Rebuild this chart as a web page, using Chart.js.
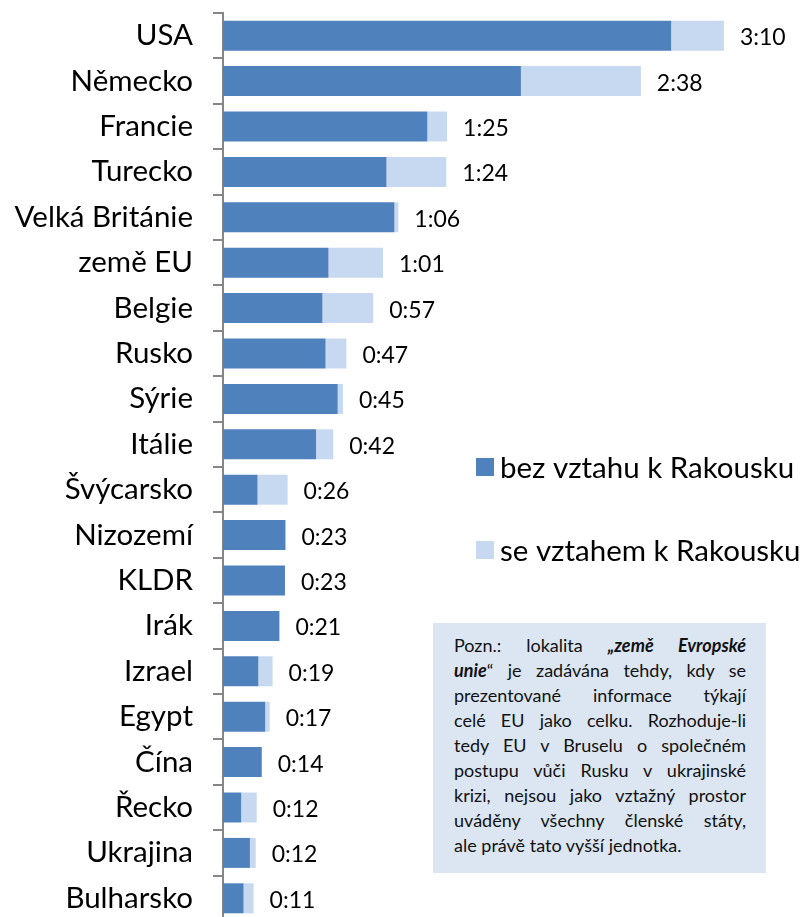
<!DOCTYPE html>
<html lang="cs">
<head>
<meta charset="utf-8">
<script src="https://cdn.jsdelivr.net/npm/chart.js@4.4.0/dist/chart.umd.min.js"></script>
<style>
  html, body { margin: 0; padding: 0; background: #fff; overflow: hidden; }
  #wrap { position: relative; width: 806px; height: 917px; overflow: hidden; }
  #chart { display: block; }
  #note {
    position: absolute; left: 433px; top: 623px; width: 333px; height: 250px;
    box-sizing: border-box; padding: 9.5px 20px 0 21px;
    background: #dce6f2; color: #111;
    font-family: Lato, sans-serif; font-size: 18px; line-height: 25.1px;
  }
  #note span { display: block; text-align: justify; text-align-last: justify; white-space: nowrap; }
  #note span.last { text-align-last: left; }
</style>
</head>
<body>
<div id="wrap">
  <canvas id="chart" width="806" height="922"></canvas>
  <div id="note">
    <span>Pozn.: lokalita <b><i>„země Evropské</i></b></span>
    <span><b><i>unie</i></b>“ je zadávána tehdy, kdy se</span>
    <span>prezentované informace týkají</span>
    <span>celé EU jako celku. Rozhoduje-li</span>
    <span>tedy EU v Bruselu o společném</span>
    <span>postupu vůči Rusku v ukrajinské</span>
    <span>krizi, nejsou jako vztažný prostor</span>
    <span>uváděny všechny členské státy,</span>
    <span class="last">ale právě tato vyšší jednotka.</span>
  </div>
</div>
<script>
// categories (top to bottom)
const countries = ['USA', 'Německo', 'Francie', 'Turecko', 'Velká Británie', 'země EU', 'Belgie',
  'Rusko', 'Sýrie', 'Itálie', 'Švýcarsko', 'Nizozemí', 'KLDR', 'Irák', 'Izrael', 'Egypt', 'Čína',
  'Řecko', 'Ukrajina', 'Bulharsko'];

// minutes without relation to Austria
const bezVztahu = [170, 113, 77.5, 62, 65, 40, 37.7, 38.9, 43.5, 35.3, 13.1, 23.7, 23.5, 21.4,
  13.4, 16, 14.7, 6.9, 10.2, 7.8];

// minutes with relation to Austria
const seVztahem = [20, 45.5, 7.5, 22.7, 1.5, 20.7, 19.3, 7.9, 2, 6.5, 11.4, 0, 0, 0,
  5.4, 1.7, 0, 5.9, 2.2, 3.8];

// total time labels shown next to bars
const totalLabels = ['3:10', '2:38', '1:25', '1:24', '1:06', '1:01', '0:57', '0:47', '0:45', '0:42',
  '0:26', '0:23', '0:23', '0:21', '0:19', '0:17', '0:14', '0:12', '0:12', '0:11'];

const FONT = 'Lato, sans-serif';

// draws the total label right of each stacked bar
const totalsPlugin = {
  id: 'totals',
  afterDatasetsDraw(chart) {
    const ctx = chart.ctx;
    const lastMeta = chart.getDatasetMeta(chart.data.datasets.length - 1);
    ctx.save();
    ctx.font = '23px ' + FONT;
    ctx.fillStyle = '#000';
    ctx.textBaseline = 'middle';
    ctx.textAlign = 'left';
    lastMeta.data.forEach((bar, i) => {
      ctx.fillText(totalLabels[i], bar.x + 16, bar.y + 2);
    });
    ctx.restore();
  }
};

// legend on the right side, built from dataset labels and colours
const sideLegend = {
  id: 'sideLegend',
  afterDraw(chart) {
    const ctx = chart.ctx;
    ctx.save();
    ctx.font = '29.5px ' + FONT;
    ctx.textBaseline = 'middle';
    chart.data.datasets.forEach((ds, i) => {
      const y = 467 + i * 83;
      ctx.fillStyle = ds.backgroundColor;
      ctx.fillRect(476, y - 9, 18, 18);
      ctx.fillStyle = '#000';
      ctx.fillText(ds.label, 500, y + 1);
    });
    ctx.restore();
  }
};

const ctx = document.getElementById('chart').getContext('2d');
new Chart(ctx, {
  type: 'bar',
  data: {
    labels: countries,
    datasets: [
      {
        label: 'bez vztahu k Rakousku',
        data: bezVztahu,
        backgroundColor: '#4f81bd',
        categoryPercentage: 1,
        barPercentage: 0.66
      },
      {
        label: 'se vztahem k Rakousku',
        data: seVztahem,
        backgroundColor: '#c6d9f1',
        categoryPercentage: 1,
        barPercentage: 0.66
      }
    ]
  },
  options: {
    indexAxis: 'y',
    responsive: false,
    animation: false,
    layout: { padding: { top: 13, bottom: 1, right: 3, left: 0 } },
    scales: {
      x: {
        stacked: true,
        display: false,
        min: 0,
        max: 220
      },
      y: {
        stacked: true,
        afterFit(scale) {
          scale.width = 223;
          scale.paddingTop = 0;
          scale.paddingBottom = 0;
        },
        border: { color: '#868686', width: 2 },
        grid: {
          offset: true,
          drawOnChartArea: false,
          drawTicks: true,
          tickLength: 10,
          color: '#868686',
          lineWidth: 2
        },
        ticks: {
          color: '#000',
          padding: 20,
          font: { family: FONT, size: 29.5 }
        }
      }
    },
    plugins: {
      legend: { display: false },
      tooltip: { enabled: false }
    }
  },
  plugins: [totalsPlugin, sideLegend]
});
</script>
</body>
</html>
